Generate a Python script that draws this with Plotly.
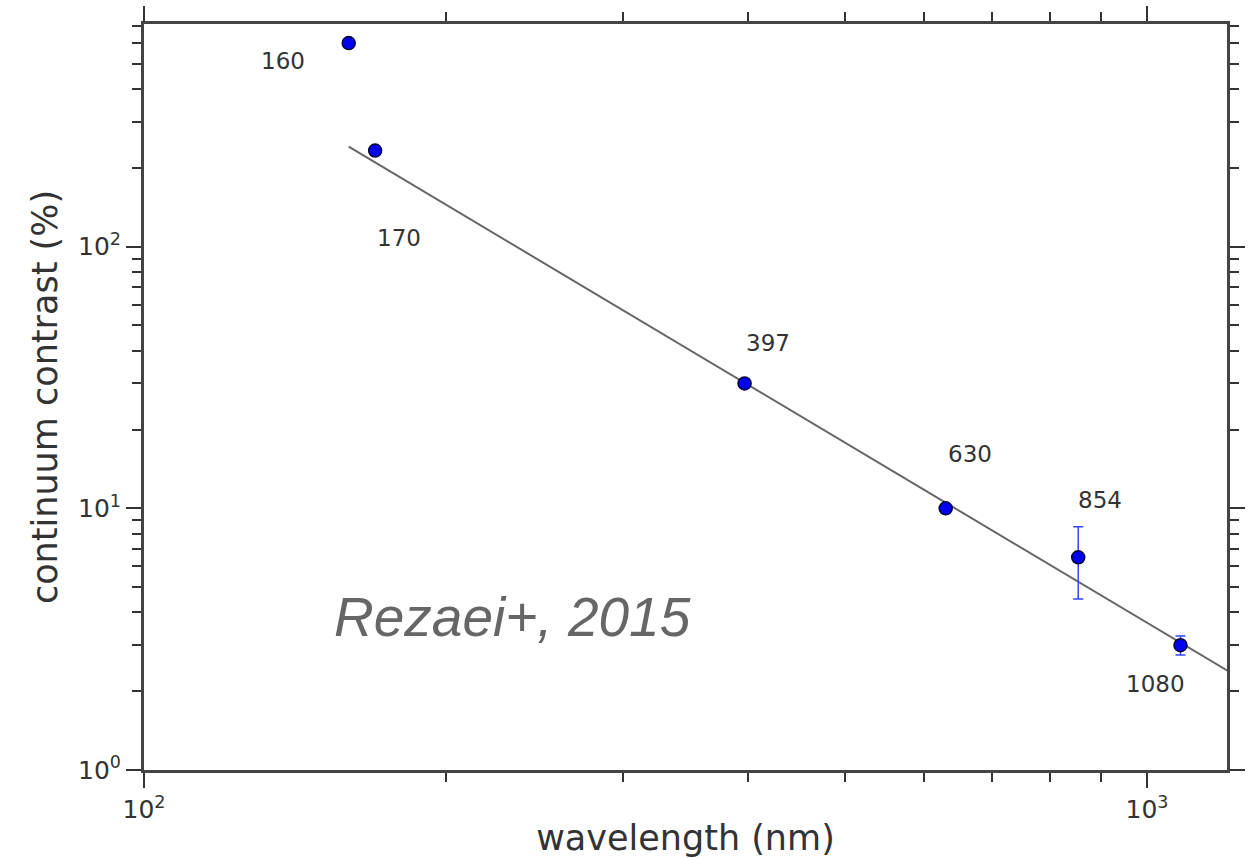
import math
import plotly.graph_objects as go

# ---- data ----
wavelength = [160, 170, 397, 630, 854, 1080]
contrast = [600, 233, 30, 10, 6.5, 3.0]
contrast_err = [0, 0, 0, 0, 2.0, 0.25]
point_labels = ["160", "170", "397", "630", "854", "1080"]
label_dx = [-66, 24, 23, 24, 22, -25]
label_dy = [-18, -87, 40, 54, 57, -39]

fit_wavelength = [160, 1202]
fit_contrast = [241, 2.4]

x_major = [100, 1000]
x_major_text = ["10<sup>2</sup>", "10<sup>3</sup>"]
y_major = [1, 10, 100]
y_major_text = ["10<sup>0</sup>", "10<sup>1</sup>", "10<sup>2</sup>"]
x_minor = [200, 300, 400, 500, 600, 700, 800, 900]
y_minor = [2, 3, 4, 5, 6, 7, 8, 9, 20, 30, 40, 50, 60, 70, 80, 90,
           200, 300, 400, 500, 600, 700]

x_range_log = [2.0, 3.0798]
y_range_log = [0.0, 2.851]

fig = go.Figure()

fig.add_trace(go.Scatter(
    x=fit_wavelength, y=fit_contrast, mode="lines",
    line=dict(color="#666666", width=2), hoverinfo="skip", showlegend=False))

fig.add_trace(go.Scatter(
    x=wavelength, y=contrast, mode="markers",
    marker=dict(size=13, color="#0000ee", line=dict(color="#00003a", width=1.5)),
    error_y=dict(type="data", array=contrast_err, visible=True,
                 color="#3344ff", thickness=1.5, width=5),
    showlegend=False))

for xv, yv, txt, dx, dy in zip(wavelength, contrast, point_labels, label_dx, label_dy):
    fig.add_annotation(x=math.log10(xv), y=math.log10(yv),
                       text=txt, showarrow=False, xshift=dx, yshift=dy,
                       font=dict(family="DejaVu Sans", size=23, color="#333333"))

fig.add_annotation(x=0.34, y=0.205, xref="paper", yref="paper",
                   xanchor="center", yanchor="middle",
                   text="<i>Rezaei+, 2015</i>", showarrow=False,
                   font=dict(family="Liberation Sans", size=55, color="#666666"))

axis_common = dict(
    type="log", showgrid=False, zeroline=False, showline=True,
    linecolor="#444444", linewidth=3, mirror="ticks", automargin=False,
    ticks="outside", ticklen=15, tickwidth=2, tickcolor="#333333",
    tickfont=dict(family="DejaVu Sans", size=25, color="#333333"),
)

fig.update_layout(
    width=1258, height=858,
    margin=dict(l=144, r=31, t=24, b=88),
    paper_bgcolor="white", plot_bgcolor="white",
    xaxis=dict(**axis_common, range=x_range_log, tickmode="array",
               tickvals=x_major, ticktext=x_major_text,
               minor=dict(tickmode="array", tickvals=x_minor, ticks="outside",
                          ticklen=9, tickwidth=2, tickcolor="#333333"),
               title=dict(text="wavelength (nm)", standoff=10,
                          font=dict(family="DejaVu Sans", size=35, color="#333333"))),
    yaxis=dict(**axis_common, range=y_range_log, tickmode="array",
               tickvals=y_major, ticktext=y_major_text,
               minor=dict(tickmode="array", tickvals=y_minor, ticks="outside",
                          ticklen=9, tickwidth=2, tickcolor="#333333"),
               title=dict(text="continuum contrast (%)", standoff=10,
                          font=dict(family="DejaVu Sans", size=35, color="#333333"))),
)

fig.write_html("out.html")
